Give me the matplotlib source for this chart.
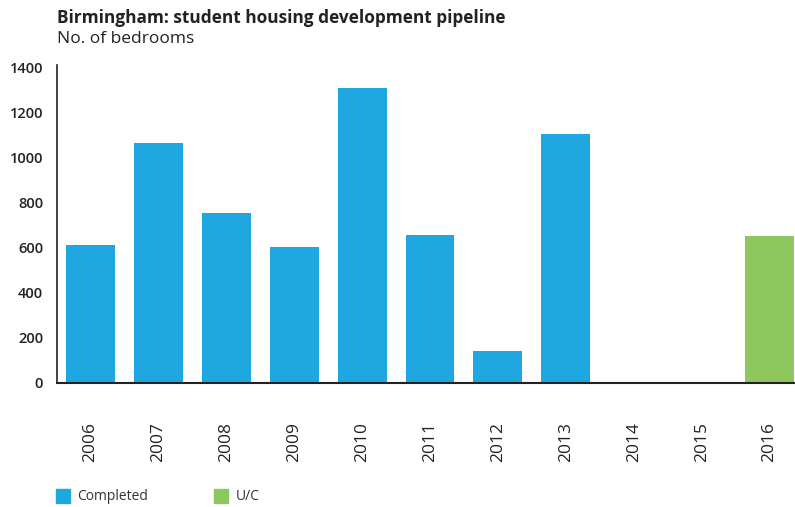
import numpy as np
import matplotlib.pyplot as plt

plt.rcParams['font.family'] = ['Open Sans', 'DejaVu Sans']

years = ['2006', '2007', '2008', '2009', '2010', '2011', '2012', '2013', '2014', '2015', '2016']
completed = [611, 1063, 753, 603, 1307, 656, 142, 1103, 0, 0, 0]
under_construction = [0, 0, 0, 0, 0, 0, 0, 0, 0, 0, 651]
y_ticks = [0, 200, 400, 600, 800, 1000, 1200, 1400]

blue = '#1fa7df'
green = '#8dc75e'

fig = plt.figure(figsize=(7.95, 5.07), dpi=100)
ax = fig.add_axes([0.0717, 0.2446, 0.9283, 0.6272])

x = np.arange(len(years))
ax.bar(x, completed, width=0.72, color=blue, label='Completed')
ax.bar(x, under_construction, width=0.72, color=green, label='U/C')

ax.set_xlim(-0.493, 10.375)
ax.set_ylim(0, 1410)
ax.set_yticks(y_ticks)
ax.set_yticklabels([str(v) for v in y_ticks], fontsize=10.5, fontweight='semibold', color='#222222')
ax.set_xticks(x)
ax.set_xticklabels(years, rotation=90, fontsize=12.5, color='#222222', va='top')
ax.tick_params(axis='x', length=0, pad=28)
ax.tick_params(axis='y', length=0, pad=10)

for side in ['top', 'right']:
    ax.spines[side].set_visible(False)
ax.spines['left'].set_color('#222222')
ax.spines['bottom'].set_color('#222222')
ax.spines['left'].set_linewidth(1.2)
ax.spines['bottom'].set_linewidth(1.5)

fig.text(0.0717, 0.982, 'Birmingham: student housing development pipeline', fontsize=12.4,
         fontweight='bold', color='#222222', va='top')
fig.text(0.0717, 0.939, 'No. of bedrooms', fontsize=12.5, color='#222222', va='top')

# legend drawn as squares with text beside them
fig.patches.append(plt.Rectangle((56 / 795, 1 - 503 / 507), 14 / 795, 14 / 507,
                                 transform=fig.transFigure, color=blue, figure=fig))
fig.text(77 / 795, 1 - 497 / 507, 'Completed', fontsize=10, color='#333333', va='center')
fig.patches.append(plt.Rectangle((214 / 795, 1 - 503 / 507), 14 / 795, 14 / 507,
                                 transform=fig.transFigure, color=green, figure=fig))
fig.text(236 / 795, 1 - 497 / 507, 'U/C', fontsize=10, color='#333333', va='center')

fig.savefig('out.png', dpi=100)
